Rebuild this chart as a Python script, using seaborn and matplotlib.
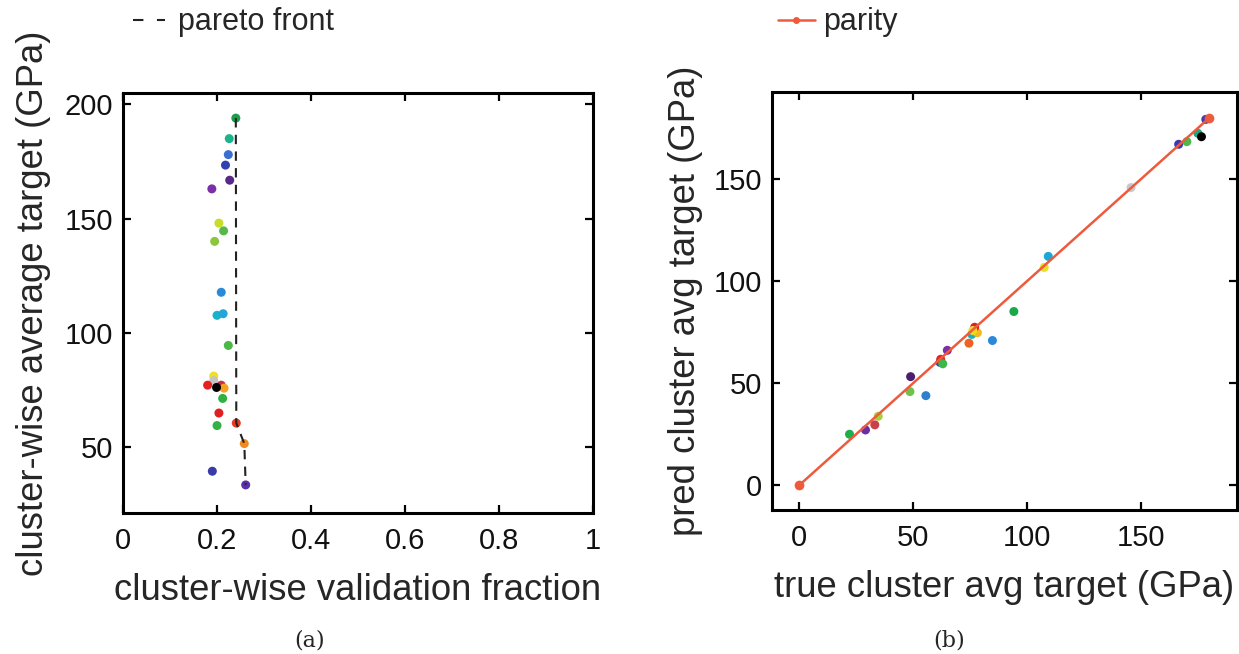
import pandas as pd
import seaborn as sns
import matplotlib.pyplot as plt
from matplotlib.lines import Line2D

# ---- data ----
# (a) cluster-wise validation fraction vs cluster-wise average target
val_fraction = [0.240, 0.226, 0.224, 0.218, 0.227, 0.189, 0.204, 0.214, 0.195,
                0.209, 0.200, 0.213, 0.224, 0.193, 0.193, 0.180, 0.209, 0.215,
                0.199, 0.212, 0.204, 0.200, 0.241, 0.258, 0.190, 0.261]
avg_target = [194.0, 185.0, 178.0, 173.4, 166.8, 163.0, 148.0, 144.6, 140.0,
              117.7, 107.6, 108.3, 94.4, 81.0, 79.0, 77.0, 77.0, 75.7,
              76.0, 71.2, 64.8, 59.3, 60.4, 51.4, 39.3, 33.3]
colors_a = ["#1a9e4a", "#1ab38c", "#3a6fd0", "#3340b0", "#562a86", "#7b2fa8",
            "#c9dc2c", "#56b947", "#8cc63e", "#2a8ad8", "#1ab2c8", "#22a6da",
            "#4cb848", "#f0e020", "#c4c4c4", "#e52222", "#c23444", "#f5a020",
            "#000000", "#30b040", "#e02020", "#34b046", "#e83a20", "#f08a20",
            "#3a3aa8", "#5a30a8"]

pareto_x = [0.240, 0.241, 0.258, 0.261]
pareto_y = [194.0, 60.4, 51.4, 33.3]

# (b) true vs predicted cluster average target (GPa)
true_avg = [22.0, 29.0, 33.1, 34.6, 48.8, 48.5, 55.5, 61.7, 62.0, 62.9,
            64.9, 74.4, 75.7, 78.1, 76.9, 76.1, 84.7, 94.1, 109.2, 107.4,
            145.5, 166.4, 170.0, 174.8, 176.4, 178.3]
pred_avg = [24.9, 27.0, 29.5, 33.7, 53.1, 45.8, 43.8, 60.1, 61.6, 59.4,
            66.0, 69.5, 73.8, 74.6, 77.3, 75.7, 70.8, 85.0, 112.0, 106.6,
            145.7, 166.9, 168.2, 172.3, 170.6, 179.1]
colors_b = ["#1fae4a", "#6a2ea6", "#c8404a", "#a8d03a", "#4a1f6e", "#6cc24a",
            "#2f7fd0", "#3a3aa8", "#e52222", "#3cb84a", "#7a30a8", "#f06020",
            "#18b0c0", "#f5b820", "#d82028", "#f0d820", "#2a8ad8", "#1aa84a",
            "#1aa8d8", "#e8e020", "#c8c8c8", "#3a3ab0", "#4cb848", "#18a888",
            "#000000", "#4a3aa8"]

parity = [0.0, 179.6]

# ---- style ----
sns.set_theme(style="ticks")
plt.rcParams["font.family"] = ["Liberation Sans", "DejaVu Sans"]
line_red = "#ee5a3c"

fig = plt.figure(figsize=(12.39, 6.54), dpi=100)
ax_a = fig.add_axes([0.0993, 0.2156, 0.3793, 0.6422])
ax_b = fig.add_axes([0.6231, 0.2202, 0.3753, 0.6391])

df_a = pd.DataFrame({"x": val_fraction, "y": avg_target,
                     "c": [f"c{i}" for i in range(len(val_fraction))]})
sns.scatterplot(data=df_a, x="x", y="y", hue="c",
                palette=dict(zip(df_a["c"], colors_a)),
                s=42, linewidth=0, legend=False, ax=ax_a, zorder=2)
sns.lineplot(x=pareto_x, y=pareto_y, sort=False, estimator=None,
             color="#222222", lw=1.5, ax=ax_a, zorder=3)
ax_a.lines[-1].set_linestyle((0, (4.5, 3.5)))

df_b = pd.DataFrame({"x": true_avg, "y": pred_avg,
                     "c": [f"c{i}" for i in range(len(true_avg))]})
sns.scatterplot(data=df_b, x="x", y="y", hue="c",
                palette=dict(zip(df_b["c"], colors_b)),
                s=42, linewidth=0, legend=False, ax=ax_b, zorder=2)
sns.lineplot(x=parity, y=parity, sort=False, estimator=None,
             color=line_red, lw=1.8, marker="o", markersize=7,
             markeredgewidth=0, ax=ax_b, zorder=3)

# ---- axes ----
ax_a.set_xlim(0, 1)
ax_a.set_ylim(21, 205)
ax_a.set_xticks([0, 0.2, 0.4, 0.6, 0.8, 1])
ax_a.set_xticklabels(["0", "0.2", "0.4", "0.6", "0.8", "1"])
ax_a.set_yticks([50, 100, 150, 200])
ax_a.set_xlabel("cluster-wise validation fraction", fontsize=26.3, labelpad=13)
ax_a.set_ylabel("cluster-wise average target (GPa)", fontsize=26.3, labelpad=10)

ax_b.set_xlim(-12, 192)
ax_b.set_ylim(-12.2, 192.5)
ax_b.set_xticks([0, 50, 100, 150])
ax_b.set_yticks([0, 50, 100, 150])
ax_b.set_xlabel("true cluster avg target (GPa)", fontsize=26.3, labelpad=13)
ax_b.set_ylabel("pred cluster avg target (GPa)", fontsize=26.3, labelpad=8)

for ax in (ax_a, ax_b):
    ax.tick_params(direction="in", top=True, right=True, length=6, width=1.6,
                   labelsize=21, pad=7, color="black", labelcolor="#111111")
    ax.tick_params(axis="x", pad=10)
    for sp in ax.spines.values():
        sp.set_linewidth(2.2)
        sp.set_color("black")

# legends above each panel
pareto_handle = Line2D([], [], color="#222222", lw=1.5, linestyle=(0, (5, 6.5)))
parity_handle = Line2D([], [], color=line_red, lw=1.8, marker="o",
                       markersize=5, markeredgewidth=0)
ax_a.legend([pareto_handle], ["pareto front"], loc="center left",
            bbox_to_anchor=(0.107, 0.966), bbox_transform=fig.transFigure,
            frameon=False, fontsize=22, borderaxespad=0, borderpad=0,
            handlelength=1.05, handletextpad=0.45)
ax_b.legend([parity_handle], ["parity"], loc="center left",
            bbox_to_anchor=(0.628, 0.966), bbox_transform=fig.transFigure,
            frameon=False, fontsize=22, borderaxespad=0, borderpad=0,
            handlelength=1.2, handletextpad=0.28)

fig.text(0.25, 0.012, "(a)", fontsize=16, family="DejaVu Serif", ha="center")
fig.text(0.766, 0.012, "(b)", fontsize=16, family="DejaVu Serif", ha="center")

fig.savefig("out.png", dpi=100, facecolor="white")
